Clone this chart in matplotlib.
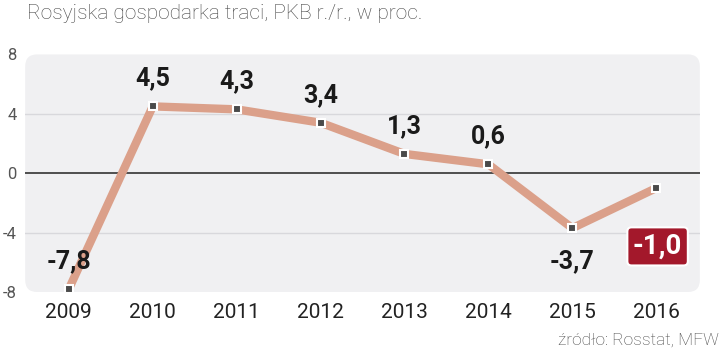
import matplotlib
matplotlib.use('Agg')
import matplotlib.pyplot as plt
import matplotlib.patches as patches
from matplotlib import font_manager

years = ['2009', '2010', '2011', '2012', '2013', '2014', '2015', '2016']
gdp = [-7.8, 4.5, 4.3, 3.4, 1.3, 0.6, -3.7, -1.0]
labels = ['-7,8', '4,5', '4,3', '3,4', '1,3', '0,6', '-3,7', '-1,0']
yticks = [-8, -4, 0, 4, 8]

names = {f.name for f in font_manager.fontManager.ttflist}
num_font = 'Liberation Sans Narrow' if 'Liberation Sans Narrow' in names else 'Roboto'

fig = plt.figure(figsize=(7.2, 3.51), dpi=100)
ax = fig.add_axes([0.035, 0.168, 0.937, 0.677])

x = list(range(len(years)))
ax.set_xlim(-0.52, len(years) - 0.48)
ax.set_ylim(-8, 8)

# rounded background panel (about 12 px corner radius)
aw, ah = 0.937 * 720, 0.677 * 351
bg = patches.FancyBboxPatch((0, 0), 1, 1, boxstyle='round,pad=0,rounding_size=%f' % (12 / aw),
                            transform=ax.transAxes, facecolor='#f0f0f2',
                            edgecolor='none', zorder=0, mutation_aspect=aw / ah)
ax.add_patch(bg)
for s in ax.spines.values():
    s.set_visible(False)
ax.patch.set_visible(False)

for g in [-4, 4]:
    ax.axhline(g, color='#d8d8dc', lw=1, zorder=1)
ax.axhline(0, color='#333333', lw=1.2, zorder=1)

ax.plot(x, gdp, color='#dba08a', lw=6, solid_capstyle='butt', zorder=2)
ax.plot(x, gdp, ls='none', marker='s', ms=6, mfc='#4a4a4a', mec='white', mew=1.5, zorder=3)

offsets = [20, 20, 20, 20, 20, 20, -24, -42]
for i, (v, lab, off) in enumerate(zip(gdp, labels, offsets)):
    if i == len(gdp) - 1:
        ax.annotate(lab, (i, v), xytext=(1, off), textcoords='offset points',
                    ha='center', va='center', fontsize=20, fontweight='bold',
                    family=num_font, color='white', zorder=5,
                    bbox=dict(boxstyle='round,pad=0.2,rounding_size=0.15',
                              fc='#a3182b', ec='white', lw=1.5))
    else:
        ax.annotate(lab, (i, v), xytext=(0, off), textcoords='offset points',
                    ha='center', va='center', fontsize=18, fontweight='bold',
                    family=num_font, color='#1a1a1a', zorder=5)

ax.set_xticks(x)
ax.set_xticklabels(years, fontsize=15, color='#222222', family='Roboto')
ax.set_yticks(yticks)
ax.set_yticklabels([str(t) for t in yticks], fontsize=12, color='#555555', family='Roboto')
ax.tick_params(length=0)
ax.tick_params(axis='x', pad=8)
ax.tick_params(axis='y', pad=6)

fig.text(0.037, 0.962, 'Rosyjska gospodarka traci, PKB r./r., w proc.',
         fontsize=15, color='#444444', family='Roboto', fontweight='light', va='center')
fig.text(0.999, 0.032, 'źródło: Rosstat, MFW', fontsize=12.5, color='#444444',
         family='Roboto', fontweight='light', ha='right', va='center')

fig.savefig('out.png', dpi=100)
